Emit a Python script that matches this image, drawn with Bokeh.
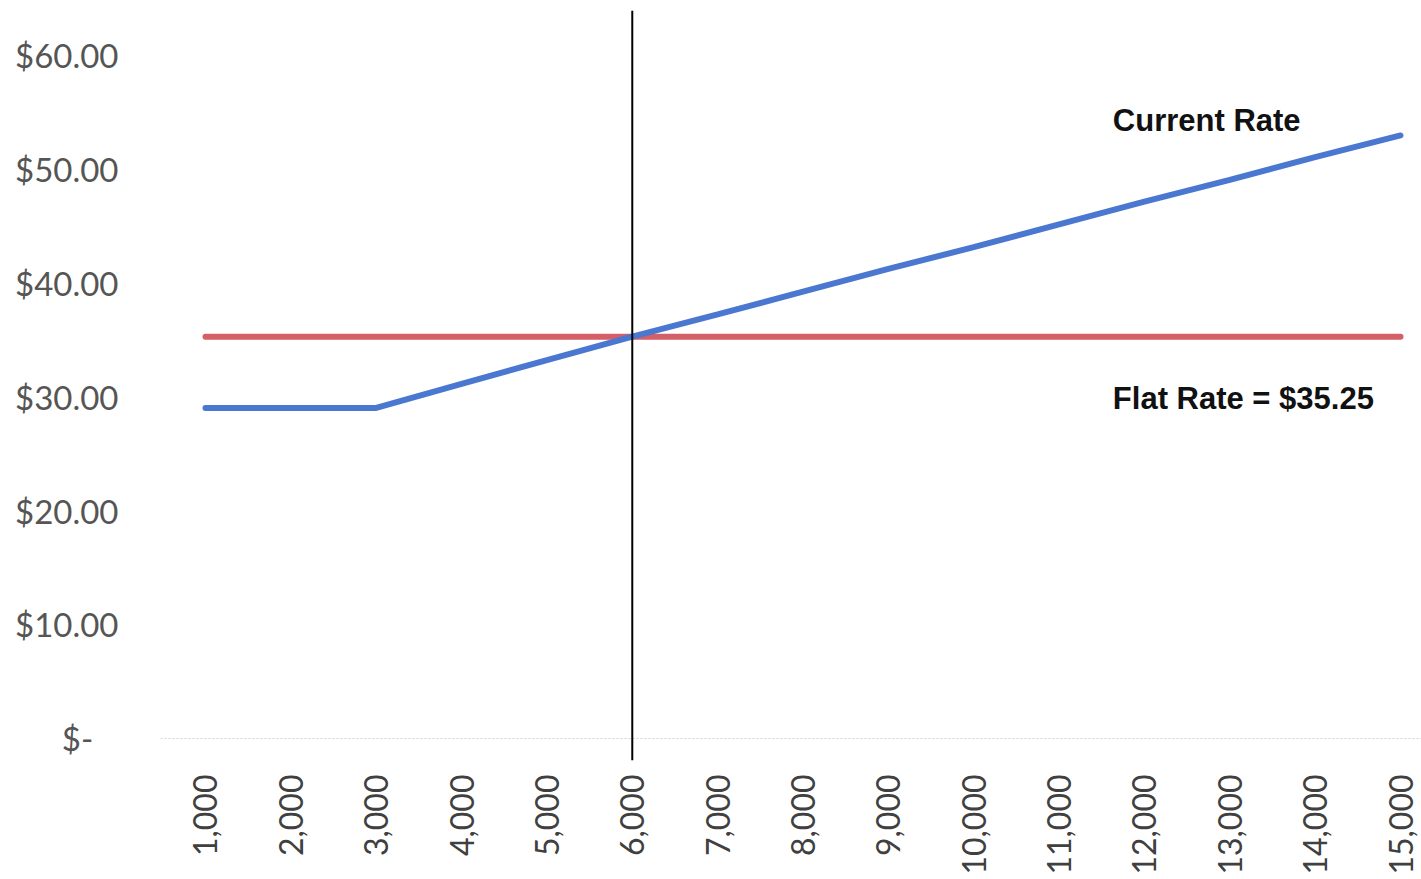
from bokeh.plotting import figure
from bokeh.models import Range1d, FixedTicker, Span, Label, ColumnDataSource
from bokeh.embed import file_html
from bokeh.resources import INLINE
import math

# ---- data ----
usage = [1000, 2000, 3000, 4000, 5000, 6000, 7000, 8000, 9000, 10000, 11000, 12000, 13000, 14000, 15000]
x_tick_labels = ["1,000", "2,000", "3,000", "4,000", "5,000", "6,000", "7,000", "8,000",
                 "9,000", "10,000", "11,000", "12,000", "13,000", "14,000", "15,000"]
current_rate = [29.0, 29.0, 29.0, 31.1, 33.2, 35.25, 37.2, 39.2, 41.2, 43.1, 45.1, 47.1, 49.0, 51.0, 52.9]
flat_rate = [35.25] * 15
y_ticks = [0, 10, 20, 30, 40, 50, 60]
y_tick_labels = ["$-\u00a0\u00a0\u00a0", "$10.00", "$20.00", "$30.00", "$40.00", "$50.00", "$60.00"]
break_even = 6000

src = ColumnDataSource(dict(x=usage, cur=current_rate, flat=flat_rate))

p = figure(width=1421, height=879, output_backend="svg", toolbar_location=None,
           x_range=Range1d(473, 15246), y_range=Range1d(-1.93, 63.86),
           min_border_left=160, min_border_right=0, min_border_top=10, min_border_bottom=119)
p.outline_line_color = None
p.xgrid.visible = False
p.ygrid.visible = False
p.background_fill_color = "white"

p.line("x", "flat", source=src, line_color="#D45F67", line_width=6, line_cap="round")
p.line("x", "cur", source=src, line_color="#4A78D0", line_width=6, line_cap="round")

p.add_layout(Span(location=0, dimension="width", line_color="#d0d0d0", line_width=1,
                  line_dash="2 2"), "below")
p.add_layout(Span(location=break_even, dimension="height", line_color="black", line_width=2))

# axes
p.xaxis.ticker = FixedTicker(ticks=usage)
p.xaxis.major_label_overrides = {u: l for u, l in zip(usage, x_tick_labels)}
p.xaxis.major_label_orientation = math.pi / 2
p.xaxis.axis_line_color = None
p.xaxis.major_tick_line_color = None
p.xaxis.minor_tick_line_color = None
p.xaxis.major_label_standoff = 8
p.xaxis.major_label_text_font = "Lato"
p.xaxis.major_label_text_font_size = "32px"
p.xaxis.major_label_text_color = "#404040"

p.yaxis.ticker = FixedTicker(ticks=y_ticks)
p.yaxis.major_label_overrides = {t: l for t, l in zip(y_ticks, y_tick_labels)}
p.yaxis.axis_line_color = None
p.yaxis.major_tick_line_color = None
p.yaxis.minor_tick_line_color = None
p.yaxis.major_label_standoff = 36
p.yaxis.major_label_text_font = "Lato"
p.yaxis.major_label_text_font_size = "33px"
p.yaxis.major_label_text_color = "#555555"

p.add_layout(Label(x=11630, y=54.2, text="Current Rate", text_font="Liberation Sans",
                   text_font_style="bold", text_font_size="31px", text_color="#111111",
                   text_baseline="middle"))
p.add_layout(Label(x=11630, y=29.82, text="Flat Rate = $35.25", text_font="Liberation Sans",
                   text_font_style="bold", text_font_size="31px", text_color="#111111",
                   text_baseline="middle"))

open("out.html", "w").write(file_html(p, INLINE))
